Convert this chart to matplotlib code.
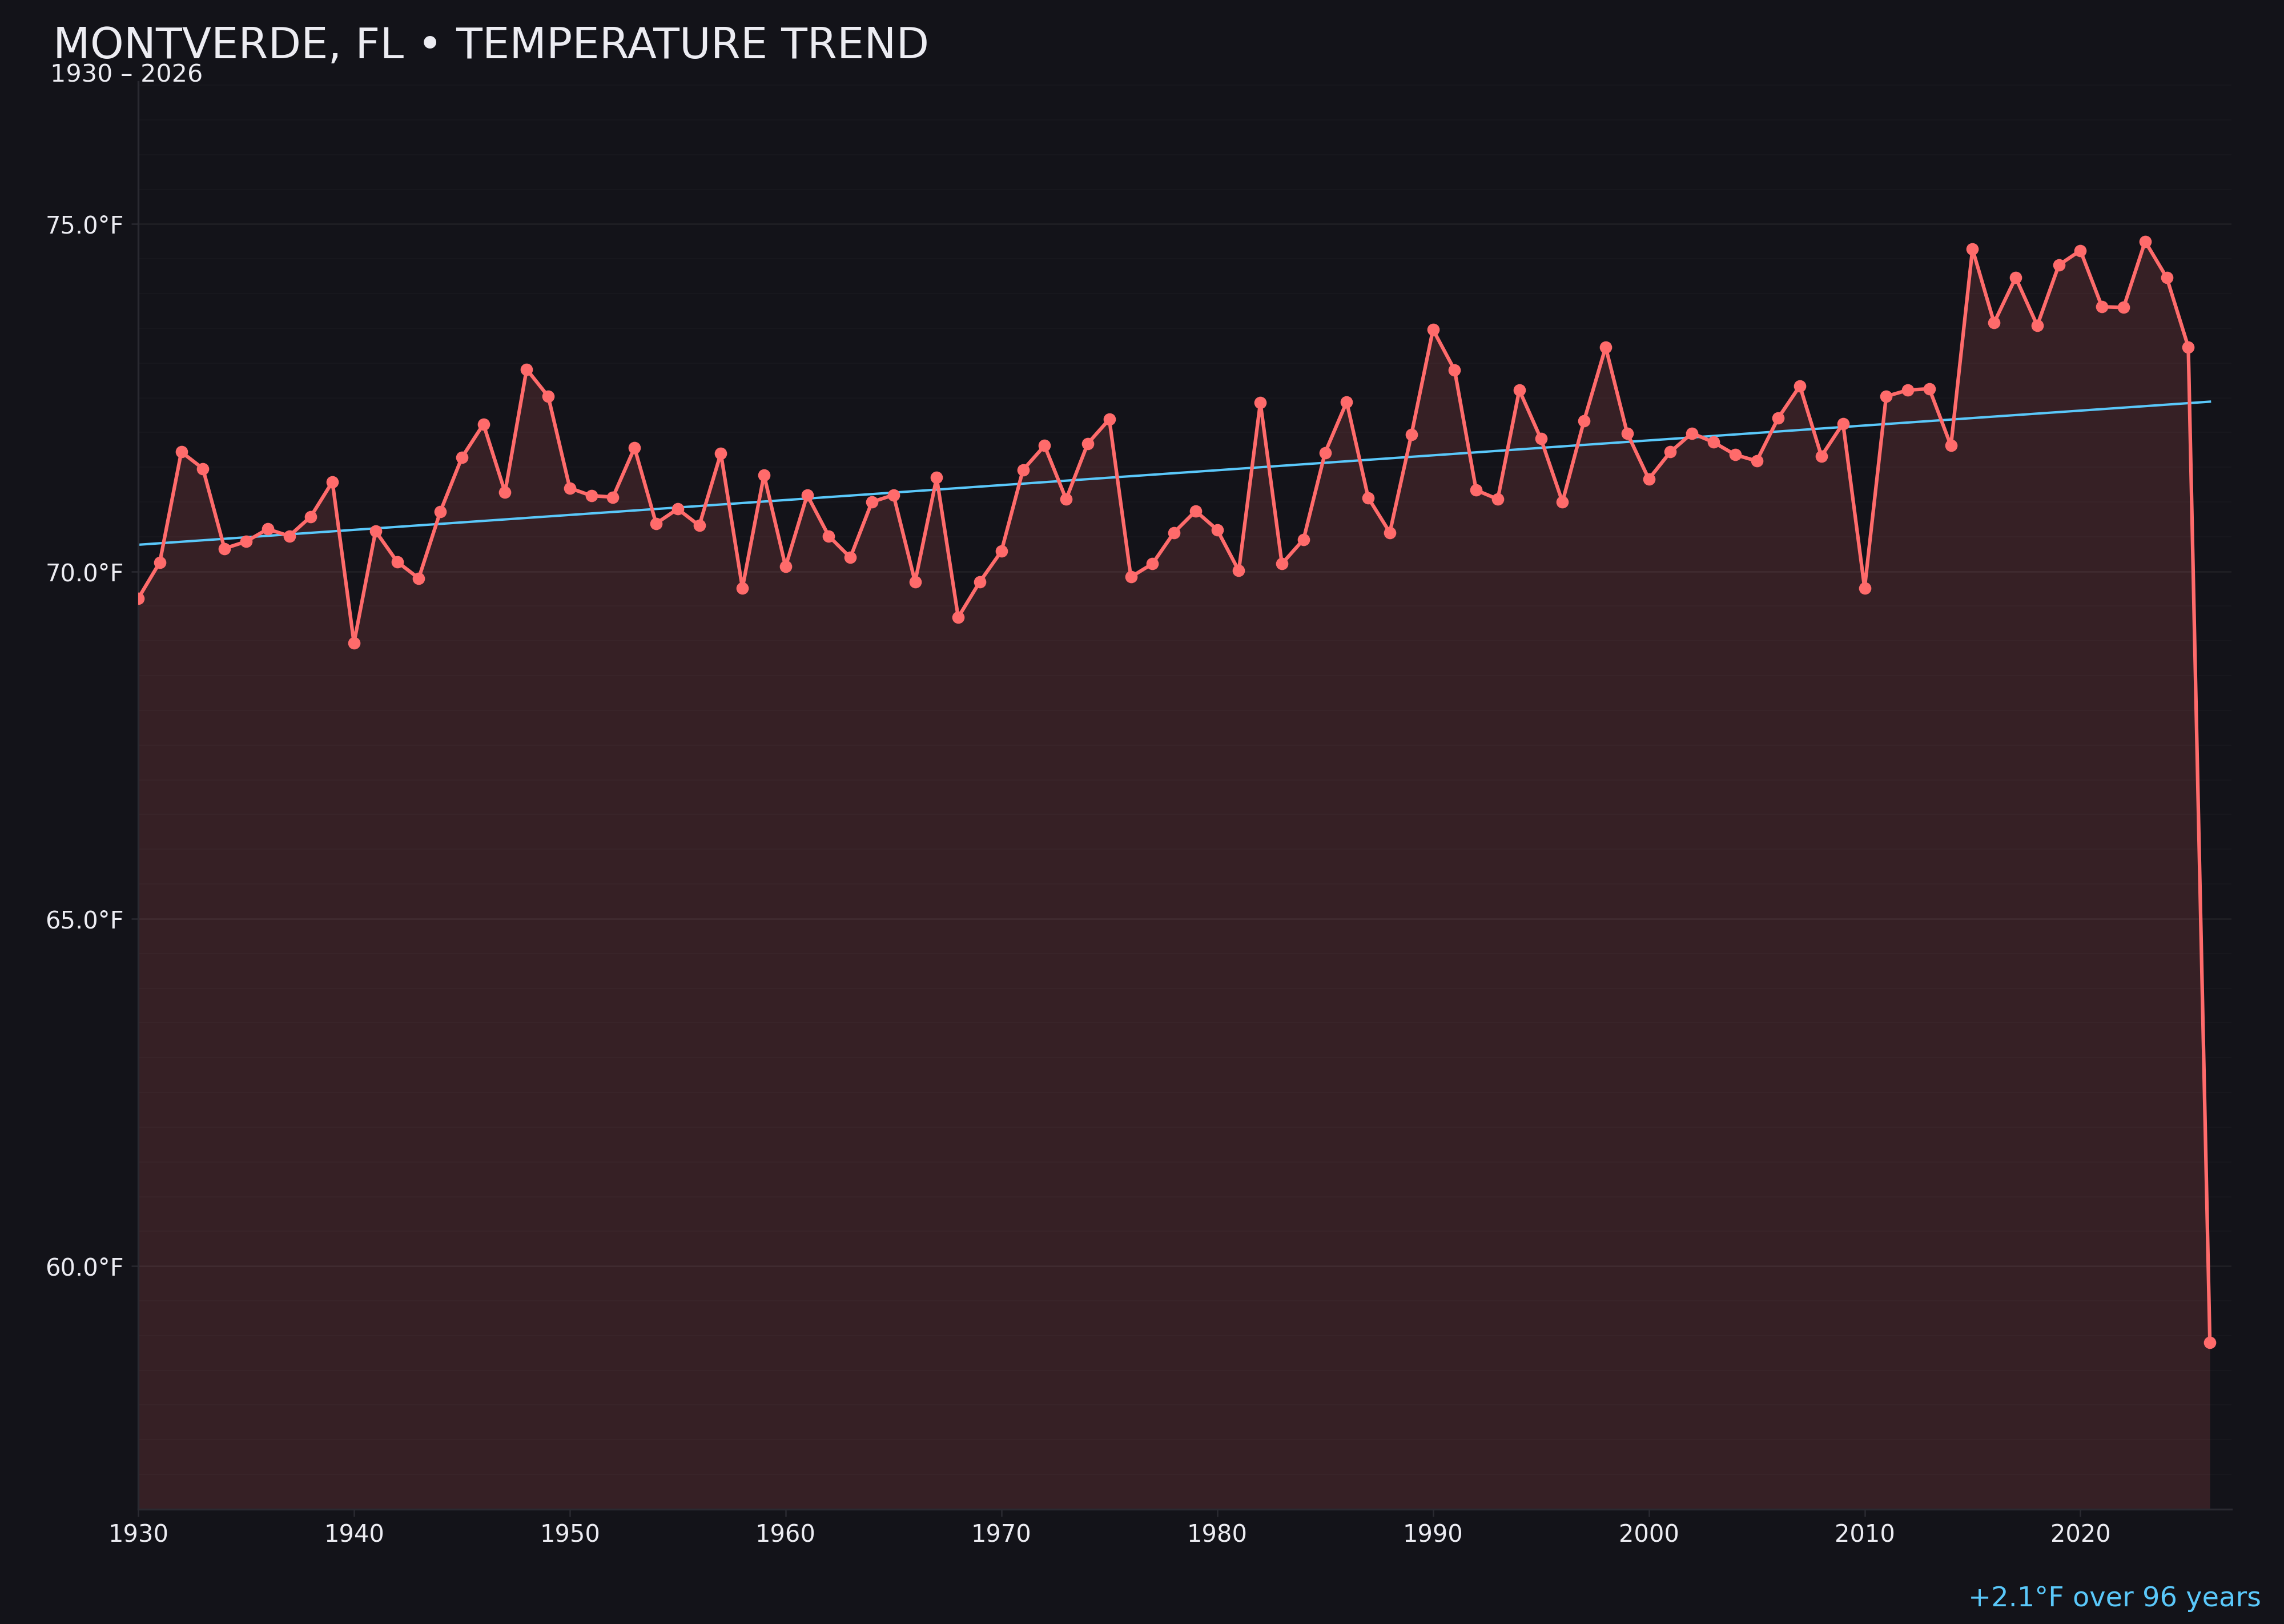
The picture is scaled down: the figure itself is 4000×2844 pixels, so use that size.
import numpy as np
import matplotlib
matplotlib.use("Agg")
import matplotlib.pyplot as plt
from matplotlib.ticker import MultipleLocator, FuncFormatter

# annual mean temperature, Montverde FL
years = list(range(1930, 2027))
temps = [
    69.61, 70.13, 71.72, 71.48, 70.33, 70.43, 70.61, 70.51, 70.79, 71.29,  # 1930s
    68.97, 70.58, 70.14, 69.90, 70.86, 71.64, 72.12, 71.14, 72.91, 72.52,  # 1940s
    71.20, 71.09, 71.07, 71.78, 70.69, 70.90, 70.66, 71.70, 69.76, 71.39,  # 1950s
    70.07, 71.10, 70.51, 70.20, 71.00, 71.10, 69.85, 71.35, 69.34, 69.85,  # 1960s
    70.29, 71.46, 71.81, 71.04, 71.84, 72.19, 69.92, 70.11, 70.56, 70.87,  # 1970s
    70.60, 70.01, 72.43, 70.11, 70.46, 71.71, 72.44, 71.06, 70.56, 71.97,  # 1980s
    73.48, 72.90, 71.17, 71.04, 72.61, 71.91, 71.00, 72.17, 73.23, 71.99,  # 1990s
    71.33, 71.72, 71.99, 71.86, 71.68, 71.59, 72.21, 72.67, 71.66, 72.13,  # 2000s
    69.76, 72.52, 72.61, 72.63, 71.81, 74.64, 73.58, 74.23, 73.54, 74.41,  # 2010s
    74.62, 73.81, 73.80, 74.75, 74.23, 73.23, 58.90,                      # 2020s
]
x_ticks = [1930, 1940, 1950, 1960, 1970, 1980, 1990, 2000, 2010, 2020]
y_range = (56.5, 77.05)
title = "MONTVERDE, FL \u2022 TEMPERATURE TREND"
subtitle = "1930 \u2013 2026"
trend_label = "+2.1\u00b0F over 96 years"

BG = "#131319"
LINE = "#ff6b6b"
TREND = "#5ac8fa"
TEXT = "#ececf2"
SPINE = "#2a2a31"

years_arr = np.array(years)
temps_arr = np.array(temps)

fig = plt.figure(figsize=(4000 / 300, 2844 / 300), dpi=300, facecolor=BG)
ax = fig.add_axes([0.0605, 0.0707, 0.9165, 0.879])
ax.set_facecolor(BG)

ymin, ymax = y_range
ax.set_ylim(ymin, ymax)
ax.set_xlim(years[0], years[-1] + 1)

# gridlines: major every 5F, very faint minor every 0.5F, drawn over the fill
ax.set_axisbelow("line")
ax.yaxis.set_major_locator(MultipleLocator(5))
ax.yaxis.set_minor_locator(MultipleLocator(0.5))
ax.grid(axis="y", which="major", color="white", alpha=0.06, linewidth=0.6)
ax.grid(axis="y", which="minor", color="white", alpha=0.02, linewidth=0.5)
ax.grid(axis="x", visible=False)

# area + line
ax.fill_between(years_arr, temps_arr, ymin, color=LINE, alpha=0.15, linewidth=0, zorder=1)
ax.plot(years_arr, temps_arr, color=LINE, linewidth=1.5, marker="o", markersize=4.2, zorder=3)

# linear trend
slope, intercept = np.polyfit(years_arr, temps_arr, 1)
ax.plot(years_arr, slope * years_arr + intercept, color=TREND, linewidth=1.0, zorder=2)

# axes styling
for side in ["top", "right"]:
    ax.spines[side].set_visible(False)
for side in ["left", "bottom"]:
    ax.spines[side].set_color(SPINE)
    ax.spines[side].set_linewidth(0.8)

ax.set_xticks(x_ticks)
ax.yaxis.set_major_formatter(FuncFormatter(lambda v, p: f"{v:.1f}\u00b0F"))
ax.tick_params(axis="both", which="major", colors=SPINE, labelcolor=TEXT,
               labelsize=10, length=3, width=0.6, pad=3)
ax.tick_params(axis="y", which="minor", length=0)

# titles
fig.text(0.0232, 0.964, title, color=TEXT, fontsize=18, ha="left", va="baseline")
fig.text(0.022, 0.9495, subtitle, color=TEXT, fontsize=10.3, ha="left", va="baseline")
fig.text(0.99, 0.011, trend_label, color=TREND, fontsize=11.5, ha="right", va="baseline")

fig.savefig("out.png", dpi=300, facecolor=BG)
